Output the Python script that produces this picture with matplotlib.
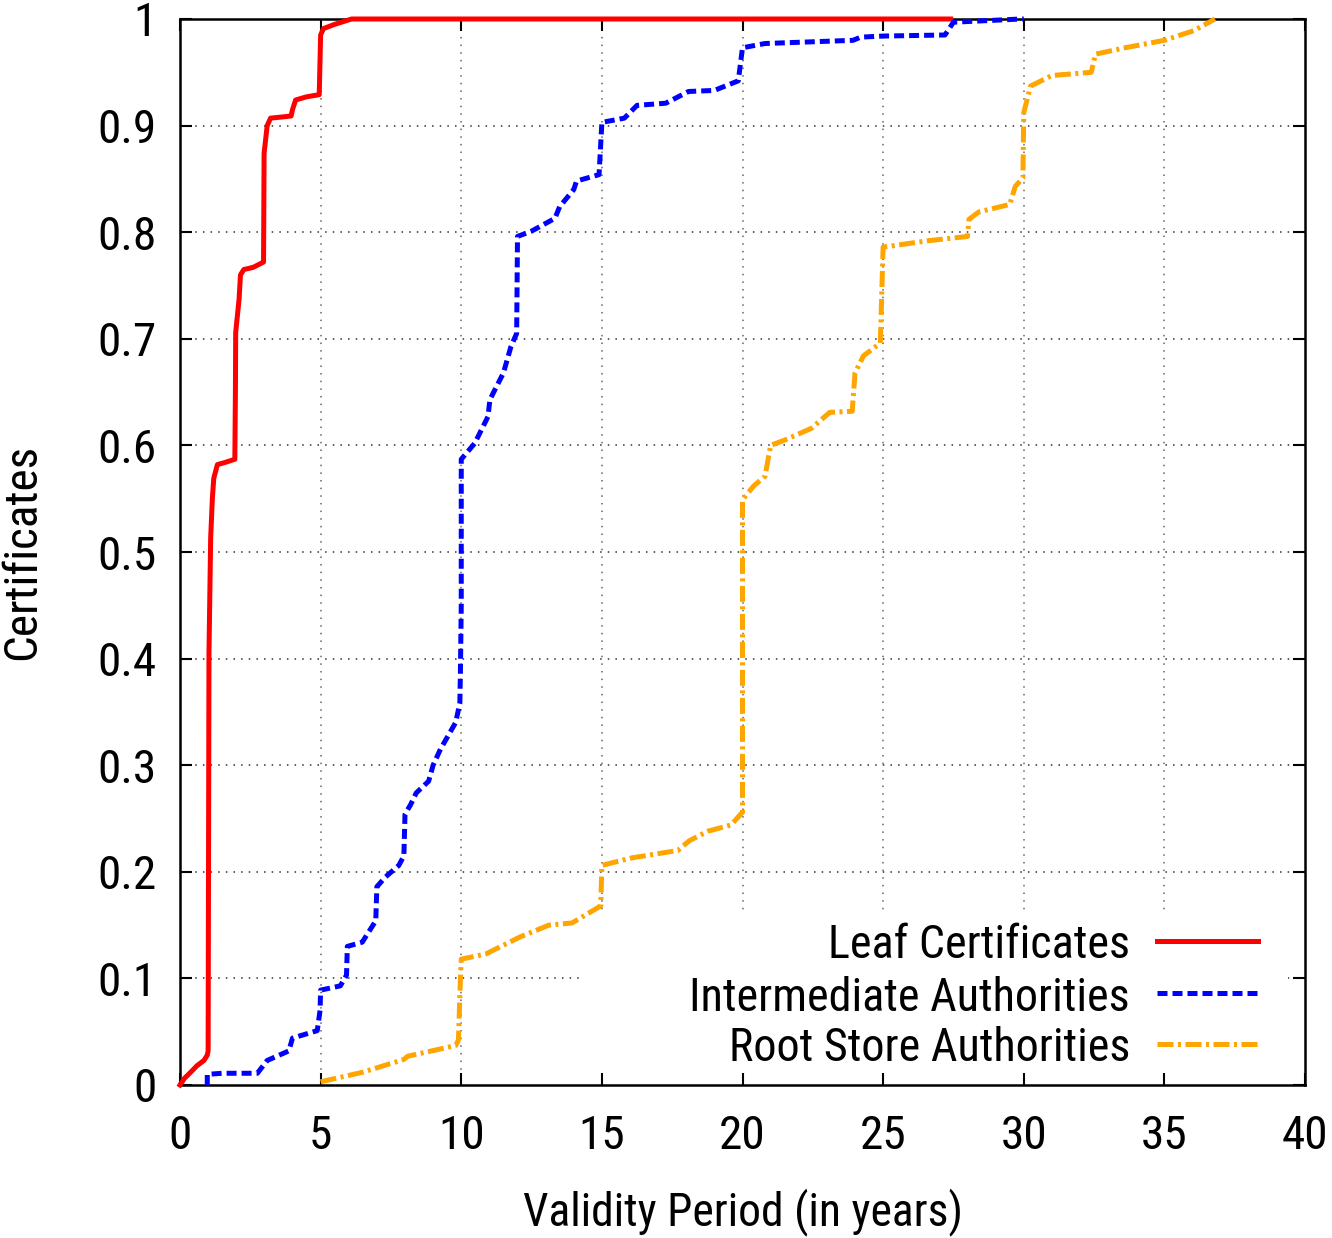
import math
import matplotlib
matplotlib.use("Agg")
import matplotlib.pyplot as plt
from matplotlib.patches import Rectangle
from matplotlib.lines import Line2D
from matplotlib import font_manager as fm
from matplotlib.textpath import TextPath

# ---------------- data ----------------
leaf_x = [0, 0.15, 0.38, 0.6, 0.85, 0.97, 1.0, 1.03, 1.09, 1.15, 1.2, 1.33, 1.6, 1.95, 1.97, 1.98,
          2.1, 2.15, 2.27, 2.6, 2.97, 2.98, 2.99, 3.1, 3.22, 3.6, 3.95, 4.0, 4.11, 4.5, 4.95, 5.0,
          5.1, 5.5, 6.1, 27.4]
leaf_y = [0, 0.006, 0.012, 0.018, 0.023, 0.028, 0.032, 0.405, 0.513, 0.55, 0.569, 0.582, 0.584,
          0.587, 0.65, 0.706, 0.737, 0.76, 0.765, 0.767, 0.772, 0.82, 0.874, 0.9, 0.907, 0.908,
          0.909, 0.915, 0.924, 0.927, 0.929, 0.985, 0.991, 0.995, 1.0, 1.0]

inter_x = [0.97, 0.97, 1.5, 2.75, 3.1, 3.87, 4.0, 4.88, 4.98, 5.0, 5.7, 5.92, 5.95, 6.48, 6.96, 7.0,
           7.3, 7.78, 7.96, 8.0, 8.2, 8.4, 8.84, 9.0, 9.26, 9.8, 9.95, 9.97, 10.0, 10.0, 10.48,
           10.95, 11.02, 11.5, 11.77, 11.97, 12.0, 12.5, 13.33, 13.5, 14.0, 14.1, 14.9, 15.0, 15.8,
           16.25, 17.27, 18.08, 19.0, 19.85, 20.0, 20.8, 23.93, 24.2, 25.0, 27.2, 27.5, 29.9, 30.0]
inter_y = [0.0, 0.01, 0.011, 0.011, 0.023, 0.032, 0.044, 0.051, 0.07, 0.089, 0.093, 0.103, 0.13,
           0.134, 0.154, 0.186, 0.195, 0.206, 0.215, 0.254, 0.263, 0.274, 0.285, 0.30, 0.315, 0.34,
           0.358, 0.387, 0.45, 0.587, 0.602, 0.627, 0.643, 0.668, 0.693, 0.705, 0.796, 0.801,
           0.813, 0.824, 0.840, 0.848, 0.854, 0.903, 0.907, 0.919, 0.921, 0.932, 0.933, 0.942,
           0.973, 0.977, 0.980, 0.983, 0.984, 0.985, 0.997, 1.0, 1.0]

root_x = [5.0, 6.5, 7.96, 8.1, 9.8, 9.9, 9.97, 10.0, 10.88, 12.1, 13.12, 13.94, 14.96, 15.0, 16.05,
          17.7, 18.1, 18.76, 19.6, 20.0, 20.0, 20.4, 20.8, 21.0, 21.5, 22.45, 23.1, 23.9, 24.0,
          24.3, 24.9, 25.0, 26.6, 28.0, 28.05, 28.4, 29.5, 29.7, 29.97, 30.0, 30.24, 31.0, 32.4,
          32.55, 33.6, 35.0, 36.04, 36.8]
root_y = [0.003, 0.012, 0.024, 0.027, 0.037, 0.042, 0.1, 0.118, 0.123, 0.139, 0.150, 0.152, 0.168,
          0.206, 0.213, 0.220, 0.229, 0.238, 0.244, 0.256, 0.549, 0.562, 0.571, 0.6, 0.605, 0.616,
          0.631, 0.632, 0.668, 0.684, 0.696, 0.786, 0.792, 0.796, 0.812, 0.819, 0.826, 0.843,
          0.851, 0.912, 0.937, 0.947, 0.95, 0.967, 0.973, 0.98, 0.989, 1.0]

series_names = ["Leaf Certificates", "Intermediate Authorities", "Root Store Authorities"]
x_ticks = [0, 5, 10, 15, 20, 25, 30, 35, 40]
y_ticks = [0, 0.1, 0.2, 0.3, 0.4, 0.5, 0.6, 0.7, 0.8, 0.9, 1.0]
y_tick_labels = ["0", "0.1", "0.2", "0.3", "0.4", "0.5", "0.6", "0.7", "0.8", "0.9", "1"]
x_label = "Validity Period (in years)"
y_label = "Certificates"

# ---------------- font: prefer a narrow sans if one is installed ----------------
def pick_font():
    prefs = ["LiberationSansNarrow-Regular", "RobotoCondensed-Regular", "Roboto_Condensed",
             "NotoSans-CondensedRegular", "NotoSans-Condensed.", "DejaVuSansCondensed.",
             "OpenSans-CondensedRegular", "OpenSans_Condensed"]
    files = [f.fname for f in fm.fontManager.ttflist]
    for p in prefs:
        for fn in files:
            if p in fn.replace(" ", ""):
                return fm.FontProperties(fname=fn)
    for f in fm.fontManager.ttflist:
        n = f.fname
        if (("Narrow" in n or "Condensed" in n) and "Bold" not in n and "Italic" not in n
                and "Light" not in n and "Semi" not in n and "Extra" not in n
                and "Medium" not in n and "Black" not in n and "Thin" not in n):
            return fm.FontProperties(fname=n)
    return fm.FontProperties(family="Liberation Sans")

FP = pick_font()
PX_PER_PT = 100 / 72


def fit_size(s, target_w_px, target_cap_px, wweight=0.7):
    w = TextPath((0, 0), s, size=100, prop=FP).get_extents().width * PX_PER_PT
    h = TextPath((0, 0), "H", size=100, prop=FP).get_extents().height * PX_PER_PT
    sw = 100 * target_w_px / w
    sh = 100 * target_cap_px / h
    return sw ** wweight * sh ** (1 - wweight)


def fprop(size):
    p = FP.copy()
    p.set_size(size)
    return p


tick_fs = fit_size("0.9", 52, 35, 0.6)
key_fs = fit_size("Intermediate Authorities", 403, 39)
xlab_fs = fit_size(x_label, 411, 37)
ylab_fs = fit_size(y_label, 255, 28, 0.5)

# ---------------- figure ----------------
W, H = 1332, 1238
fig = plt.figure(figsize=(W / 100, H / 100), dpi=100)
ax = fig.add_axes([180 / W, 1 - 1085 / H, 1125 / W, 1066 / H])
ax.set_xlim(0, 40)
ax.set_ylim(0, 1)

for v in x_ticks[1:-1]:
    ax.axvline(v, color='#666666', lw=1.1, ls=(0, (1, 4)), zorder=0.5)
for v in y_ticks[1:-1]:
    ax.axhline(v, color='#333333', lw=1.1, ls=(0, (1, 4)), zorder=0.5)

ax.add_patch(Rectangle((0.355, 0.0), 0.985 - 0.355, 0.162, transform=ax.transAxes,
                       facecolor='white', edgecolor='none', zorder=1))

lw = 3.6
styles = [
    dict(color='#ff0000', ls='-'),
    dict(color='#0000ff', ls=(0, (2.0, 1.0))),
    dict(color='#ffa500', ls=(0, (3.2, 0.9, 0.6, 0.9))),
]
data = [(leaf_x, leaf_y), (inter_x, inter_y), (root_x, root_y)]
for (xs, ys), st in zip(data, styles):
    ax.plot(xs, ys, lw=lw, zorder=3, clip_on=False, **st)

rows_y = [0.1351, 0.0863, 0.0385]
for name, st, ry in zip(series_names, styles, rows_y):
    ax.text(0.8444, ry, name, transform=ax.transAxes, ha='right', va='center_baseline',
            fontproperties=fprop(key_fs), zorder=4)
    ax.add_line(Line2D([0.8684, 0.9582], [ry, ry], transform=ax.transAxes, lw=lw,
                       zorder=4, **st))

ax.set_xticks(x_ticks)
ax.set_xticklabels([str(t) for t in x_ticks])
ax.set_yticks(y_ticks)
ax.set_yticklabels(y_tick_labels)
for lab in ax.get_xticklabels() + ax.get_yticklabels():
    lab.set_fontproperties(fprop(tick_fs))
ax.tick_params(direction='in', length=8.5, width=1.5, top=True, right=True)
ax.tick_params(axis='x', pad=21)
ax.tick_params(axis='y', pad=17)
for s in ax.spines.values():
    s.set_linewidth(1.8)

ax.set_xlabel(x_label, fontproperties=fprop(xlab_fs))
ax.xaxis.set_label_coords(0.5, -0.097)
ax.set_ylabel(y_label, fontproperties=fprop(ylab_fs))
ax.yaxis.set_label_coords(-0.121, 0.5)

fig.savefig("out.png", dpi=100)
